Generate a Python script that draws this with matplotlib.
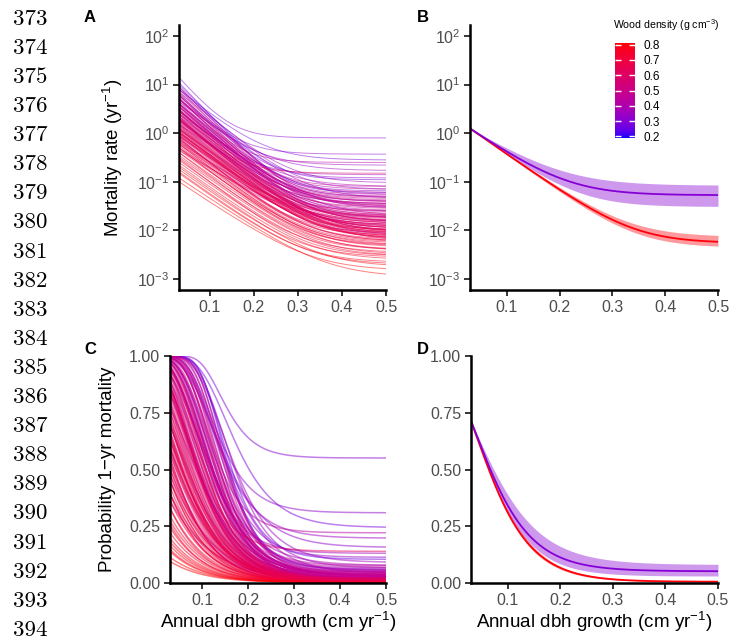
import numpy as np
import matplotlib
matplotlib.use("Agg")
import matplotlib.pyplot as plt
from matplotlib.colors import LinearSegmentedColormap, Normalize
from matplotlib.cm import ScalarMappable
from matplotlib.ticker import FixedLocator, FormatStrFormatter, LogFormatterSciNotation, NullLocator

plt.rcParams['font.family'] = ['Liberation Sans', 'DejaVu Sans']
plt.rcParams['mathtext.fontset'] = 'custom'
plt.rcParams['mathtext.rm'] = 'Liberation Sans'
plt.rcParams['mathtext.it'] = 'Liberation Sans:italic'
plt.rcParams['mathtext.bf'] = 'Liberation Sans:bold'

# species curves (panels A, C): hazard = (h_start - h_end) * exp(-decay * (g - 0.03)) + h_end
wood_density = [
    0.30, 0.32, 0.28, 0.35, 0.33, 0.38, 0.36, 0.40, 0.31, 0.34, 0.37, 0.39,
    0.41, 0.29, 0.36, 0.33, 0.42, 0.38, 0.35, 0.40, 0.27, 0.34, 0.39, 0.37,
    0.45, 0.50, 0.55, 0.48, 0.52, 0.58, 0.44, 0.47, 0.53, 0.56, 0.49, 0.51,
    0.54, 0.57, 0.46, 0.59, 0.50, 0.52, 0.48, 0.55, 0.43, 0.47, 0.53, 0.58,
    0.51, 0.49, 0.56, 0.45, 0.54, 0.50, 0.46, 0.52, 0.57, 0.48, 0.55, 0.44,
    0.59, 0.51, 0.53, 0.47, 0.56, 0.50, 0.49, 0.54, 0.58, 0.46, 0.52, 0.55,
    0.48, 0.57, 0.51, 0.53,
    0.62, 0.65, 0.70, 0.68, 0.75, 0.63, 0.72, 0.66, 0.80, 0.61, 0.69, 0.74,
    0.64, 0.71, 0.78, 0.67, 0.62, 0.73, 0.66, 0.82, 0.60, 0.70, 0.76, 0.64,
    0.68, 0.72, 0.63, 0.77, 0.65, 0.69, 0.61, 0.74, 0.67, 0.71, 0.84, 0.62,
    0.66, 0.73, 0.79, 0.64, 0.70, 0.68, 0.75, 0.63,
]
h_start = [
    14, 6, 8, 5, 4.5, 3, 7, 2.5, 9, 3.5, 5, 2,
    1.5, 11, 4, 6.5, 2.2, 3, 8, 1.8, 10, 4, 2.8, 1.2,
    3, 2, 1.5, 5, 1, 0.8, 6, 4, 2.5, 1.2, 7, 3.5,
    0.9, 2, 9, 0.6, 1.8, 4.5, 2.2, 1.4, 5.5, 3, 0.7, 1.1,
    6, 2.8, 1.6, 8, 0.5, 2.4, 3.2, 1.3, 0.9, 5, 2, 4,
    1, 3.8, 0.45, 2.6, 1.7, 6.5, 1.9, 1.05, 0.75, 4.2, 0.65, 2.1,
    3.6, 1.25, 5.2, 0.85,
    1.5, 0.8, 0.5, 1.2, 0.3, 2.5, 0.4, 1, 0.2, 3, 0.7, 0.25,
    1.8, 0.6, 0.15, 0.9, 2, 0.35, 1.4, 0.12, 2.2, 0.55, 0.18, 1.1,
    0.65, 0.45, 2.8, 0.22, 1.3, 0.75, 3.5, 0.28, 0.95, 0.5, 0.1, 1.6,
    1.2, 0.4, 0.16, 0.85, 0.6, 1.05, 0.32, 1.9,
]
h_end = [
    0.80, 0.37, 0.28, 0.22, 0.17, 0.14, 0.095, 0.08, 0.065, 0.05, 0.045, 0.035,
    0.03, 0.06, 0.025, 0.12, 0.02, 0.04, 0.07, 0.015, 0.11, 0.055, 0.028, 0.018,
    0.06, 0.025, 0.012, 0.04, 0.018, 0.009, 0.08, 0.035, 0.015, 0.010, 0.03, 0.022,
    0.014, 0.008, 0.05, 0.007, 0.02, 0.016, 0.045, 0.011, 0.25, 0.028, 0.013, 0.0085,
    0.019, 0.033, 0.0095, 0.055, 0.012, 0.024, 0.038, 0.017, 0.0075, 0.042, 0.010, 0.07,
    0.006, 0.021, 0.015, 0.03, 0.009, 0.026, 0.036, 0.013, 0.0065, 0.048, 0.018, 0.011,
    0.032, 0.008, 0.02, 0.014,
    0.012, 0.008, 0.005, 0.007, 0.003, 0.015, 0.004, 0.009, 0.0018, 0.02, 0.006, 0.0035,
    0.011, 0.0045, 0.0022, 0.0075, 0.013, 0.004, 0.01, 0.0011, 0.15, 0.0055, 0.0028, 0.009,
    0.0065, 0.005, 0.016, 0.0025, 0.0085, 0.006, 0.018, 0.003, 0.007, 0.0048, 0.0015, 0.014,
    0.0095, 0.0038, 0.002, 0.01, 0.0058, 0.0068, 0.0032, 0.011,
]
decay = [
    24, 20, 17, 18, 16, 19, 17, 15, 21, 18, 16, 17,
    14, 22, 19, 20, 15, 18, 18, 16, 21, 17, 16, 15,
    17, 18, 16, 19, 15, 17, 20, 18, 17, 16, 19, 18,
    15, 17, 21, 14, 16, 19, 17, 16, 22, 18, 15, 17,
    20, 17, 16, 21, 14, 18, 17, 16, 15, 19, 17, 18,
    15, 19, 13, 18, 16, 20, 17, 16, 15, 19, 14, 17,
    18, 16, 20, 15,
    17, 17, 16, 17, 16, 18, 16, 16, 15, 19, 16, 15,
    17, 16, 15, 16, 18, 15, 17, 14, 20, 16, 15, 16,
    16, 15, 18, 15, 16, 16, 19, 15, 16, 16, 14, 17,
    16, 15, 15, 16, 16, 16, 15, 17,
]

# mean curves (panels B, D) for high and low wood density
mean_wd = [0.8, 0.3]
mean_start = [1.25, 1.25]
mean_end = [0.0055, 0.053]
mean_decay = [17.5, 17]
lo_end = [0.0045, 0.031]
lo_decay = [18, 18]
hi_end = [0.0075, 0.085]
hi_decay = [17, 15]

line_numbers = list(range(373, 395))

W, H = 731, 641
fig = plt.figure(figsize=(W / 100, H / 100), dpi=100)


def px_axes(l, t, r, b):
    return fig.add_axes([l / W, 1 - b / H, (r - l) / W, (b - t) / H])


def srgb_to_lab(c):
    c = np.asarray(c, float)
    lin = np.where(c <= 0.04045, c / 12.92, ((c + 0.055) / 1.055) ** 2.4)
    M = np.array([[0.4124, 0.3576, 0.1805], [0.2126, 0.7152, 0.0722], [0.0193, 0.1192, 0.9505]])
    xyz = M @ lin / np.array([0.95047, 1.0, 1.08883])
    f = np.where(xyz > 0.008856, np.cbrt(xyz), 7.787 * xyz + 16 / 116)
    return np.array([116 * f[1] - 16, 500 * (f[0] - f[1]), 200 * (f[1] - f[2])])


def lab_to_srgb(lab):
    L, a, b = lab
    fy = (L + 16) / 116
    f = np.array([fy + a / 500, fy, fy - b / 200])
    t = np.where(f ** 3 > 0.008856, f ** 3, (f - 16 / 116) / 7.787)
    xyz = t * np.array([0.95047, 1.0, 1.08883])
    Minv = np.array([[3.2406, -1.5372, -0.4986], [-0.9689, 1.8758, 0.0415], [0.0557, -0.2040, 1.0570]])
    lin = np.clip(Minv @ xyz, 0, 1)
    c = np.where(lin <= 0.0031308, 12.92 * lin, 1.055 * lin ** (1 / 2.4) - 0.055)
    return np.clip(c, 0, 1)


# ggplot-like blue -> red gradient, interpolated in Lab
lab0, lab1 = srgb_to_lab([0, 0, 1]), srgb_to_lab([1, 0, 0])
grad = [lab_to_srgb(lab0 + (lab1 - lab0) * s) for s in np.linspace(0, 1, 64)]
cmap = LinearSegmentedColormap.from_list('bluered', grad)
norm = Normalize(0.19, 0.81)

g = np.linspace(0.03, 0.5, 300)


def hazard(h0, c, b):
    return (h0 - c) * np.exp(-b * (g - 0.03)) + c


def style(ax, log):
    for s in ['top', 'right']:
        ax.spines[s].set_visible(False)
    for s in ['left', 'bottom']:
        ax.spines[s].set_linewidth(1.8)
    ax.set_xlim(0.03, 0.5)
    ax.xaxis.set_major_locator(FixedLocator([0.1, 0.2, 0.3, 0.4, 0.5]))
    ax.xaxis.set_major_formatter(FormatStrFormatter('%.1f'))
    if log:
        ax.set_yscale('log')
        ax.set_ylim(10 ** -3.226, 10 ** 2.226)
        ax.yaxis.set_major_locator(FixedLocator([1e-3, 1e-2, 1e-1, 1, 10, 100]))
        ax.yaxis.set_major_formatter(LogFormatterSciNotation())
        ax.yaxis.set_minor_locator(NullLocator())
    else:
        ax.set_ylim(0, 1)
        ax.yaxis.set_major_locator(FixedLocator([0, 0.25, 0.5, 0.75, 1]))
        ax.yaxis.set_major_formatter(FormatStrFormatter('%.2f'))
    ax.tick_params(length=4, width=1.1, color='black', labelcolor='#4D4D4D',
                   labelsize=11.5, pad=3)


axA = px_axes(179, 25, 386, 290)
axB = px_axes(470, 25, 718, 290)
axC = px_axes(170, 356, 386, 583)
axD = px_axes(471, 356, 718, 583)

for wd, h0, c, b in zip(wood_density, h_start, h_end, decay):
    h = hazard(h0, c, b)
    col = cmap(norm(wd))
    axA.plot(g, h, color=col, lw=0.7, alpha=0.5)
    axC.plot(g, 1 - np.exp(-h), color=col, lw=1.1, alpha=0.5)

for i in range(len(mean_wd)):
    col = cmap(norm(mean_wd[i]))
    h = hazard(mean_start[i], mean_end[i], mean_decay[i])
    lo = hazard(mean_start[i], lo_end[i], lo_decay[i])
    hi = hazard(mean_start[i], hi_end[i], hi_decay[i])
    axB.fill_between(g, lo, hi, color=col, alpha=0.4, lw=0)
    axB.plot(g, h, color=col, lw=1.3)
    axD.fill_between(g, 1 - np.exp(-lo), 1 - np.exp(-hi), color=col, alpha=0.4, lw=0)
    axD.plot(g, 1 - np.exp(-h), color=col, lw=1.3)

style(axA, True)
style(axB, True)
style(axC, False)
style(axD, False)

# axis titles
fig.text(113 / W, 1 - 157.5 / H, 'Mortality rate (yr$^{-1}$)', rotation=90,
         ha='center', va='center', fontsize=13.5)
fig.text(108 / W, 1 - 469.5 / H, 'Probability 1\u2212yr mortality', rotation=90,
         ha='center', va='center', fontsize=13.5)
for xc in [278, 594.5]:
    fig.text(xc / W, 1 - 622 / H, 'Annual dbh growth (cm yr$^{-1}$)',
             ha='center', va='center', fontsize=13.5)

# panel letters
for lab, x, y in [('A', 90, 17), ('B', 423, 17), ('C', 90, 349), ('D', 423, 349)]:
    fig.text(x / W, 1 - y / H, lab, ha='center', va='center', fontsize=12, fontweight='bold')

# colour legend
fig.text(613 / W, 1 - 25 / H, 'Wood density (g cm$^{-3}$)', ha='left', va='center', fontsize=7.6)
cax = px_axes(615, 43, 635, 138)
cb = fig.colorbar(ScalarMappable(norm=norm, cmap=cmap), cax=cax)
cb.outline.set_visible(False)
cb.set_ticks([0.2, 0.3, 0.4, 0.5, 0.6, 0.7, 0.8])
cb.set_ticklabels(['0.2', '0.3', '0.4', '0.5', '0.6', '0.7', '0.8'])
cax.tick_params(left=True, right=True, labelleft=False, labelright=True, direction='in',
                color='white', length=4, width=1, labelsize=8.5, labelcolor='black', pad=6)

# manuscript line numbers
for i, n in enumerate(line_numbers):
    fig.text(47 / W, 1 - (19 + 29.1 * i) / H, str(n), ha='right', va='center',
             fontfamily='cmr10', fontsize=16.5)

fig.savefig('out.png', dpi=100)
